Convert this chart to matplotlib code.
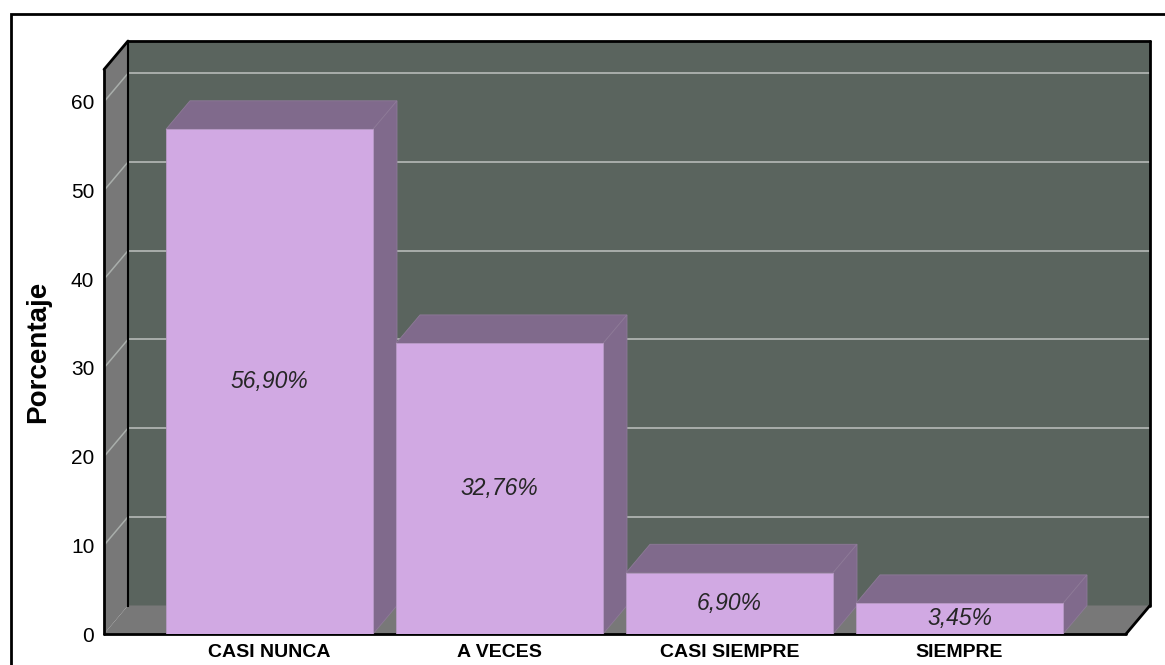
import matplotlib.pyplot as plt
from matplotlib import font_manager
from matplotlib.patches import Polygon, Rectangle

# Data
categories = ['CASI NUNCA', 'A VECES', 'CASI SIEMPRE', 'SIEMPRE']
percentages = [56.90, 32.76, 6.90, 3.45]
value_labels = ['56,90%', '32,76%', '6,90%', '3,45%']
y_ticks = [0, 10, 20, 30, 40, 50, 60]

# Colours
wall_back = '#5a645e'
wall_side = '#787878'
grid_col = '#a9aeab'
bar_front = '#d1a9e3'
bar_dark = '#806a8c'

plt.rcParams['font.family'] = ['Liberation Sans', 'DejaVu Sans']

# narrow bold font for the category labels if it is there
names = {f.name for f in font_manager.fontManager.ttflist}
if 'Liberation Sans Narrow' in names:
    cat_font = dict(family=['Liberation Sans Narrow', 'DejaVu Sans'], fontsize=16)
else:
    cat_font = dict(fontsize=14)

W, H = 1165, 665
fig = plt.figure(figsize=(W / 100, H / 100), dpi=100)

# axes box in pixels (front-left corner of floor to back-right top corner)
left_px, right_px, bottom_px, top_px = 104, 1150, 634, 41
ax = fig.add_axes([left_px / W, (H - bottom_px) / H,
                   (right_px - left_px) / W, (bottom_px - top_px) / H])

px_cat = 230.0   # pixels per category
px_val = 8.87    # pixels per percent
x0 = -(269.5 - left_px) / px_cat
x1 = x0 + (right_px - left_px) / px_cat
ytop = (bottom_px - top_px) / px_val
DX = 24 / px_cat
DY = 28.5 / px_val
xr = x1 - DX           # right end of floor front edge
ywall = ytop - DY      # top of left wall front edge

ax.set_xlim(x0, x1)
ax.set_ylim(0, ytop)
for s in ax.spines.values():
    s.set_visible(False)
ax.patch.set_visible(False)

# back wall, left wall, floor
ax.add_patch(Polygon([(x0 + DX, DY), (x1, DY), (x1, ytop), (x0 + DX, ytop)],
                     closed=True, facecolor=wall_back, edgecolor='none', zorder=1))
ax.add_patch(Polygon([(x0, 0), (x0 + DX, DY), (x0 + DX, ytop), (x0, ywall)],
                     closed=True, facecolor=wall_side, edgecolor='none', zorder=1))
ax.add_patch(Polygon([(x0, 0), (xr, 0), (x1, DY), (x0 + DX, DY)],
                     closed=True, facecolor=wall_side, edgecolor='none', zorder=1))

# gridlines
for v in y_ticks[1:]:
    ax.plot([x0 + DX, x1], [v + DY, v + DY], color=grid_col, lw=1.4, zorder=2)
    ax.plot([x0, x0 + DX], [v, v + DY], color=grid_col, lw=1.1, zorder=2)

# frame edges
edge_kw = dict(color='black', lw=2, zorder=3, clip_on=False, solid_capstyle='round')
ax.plot([x0, x0], [0, ywall], **edge_kw)
ax.plot([x0, x0 + DX], [ywall, ytop], **edge_kw)
ax.plot([x0 + DX, x1], [ytop, ytop], **edge_kw)
ax.plot([x1, x1], [ytop, DY], **edge_kw)
ax.plot([x1, xr], [DY, 0], **edge_kw)
ax.plot([x0, xr], [0, 0], **edge_kw)
ax.plot([x0 + DX, x0 + DX], [DY, ytop], color='black', lw=1.5, zorder=3)

# 3D bars
bw = 0.9
for i, v in enumerate(percentages):
    l, r = i - bw / 2, i + bw / 2
    ax.add_patch(Polygon([(l, v), (r, v), (r + DX, v + DY), (l + DX, v + DY)],
                         closed=True, facecolor=bar_dark, edgecolor='#8e7a98',
                         lw=0.6, zorder=4 + i))
    ax.add_patch(Polygon([(r, 0), (r + DX, DY), (r + DX, v + DY), (r, v)],
                         closed=True, facecolor=bar_dark, edgecolor='#8e7a98',
                         lw=0.6, zorder=4 + i))
    ax.add_patch(Rectangle((l, 0), bw, v, facecolor=bar_front,
                           edgecolor='#b89ac6', lw=0.6, zorder=4 + i))

# value labels
for i, (v, lab) in enumerate(zip(percentages, value_labels)):
    box = dict(facecolor=bar_front, edgecolor='none', pad=2) if v < 5 else None
    ax.text(i, v / 2, lab, ha='center', va='center', fontsize=16.5,
            style='italic', color='#262626', zorder=20, bbox=box)

# ticks
ax.set_xticks(range(len(categories)))
ax.set_xticklabels(categories, fontweight='bold', **cat_font)
ax.set_yticks(y_ticks)
ax.set_yticklabels([str(t) for t in y_ticks], fontsize=15)
ax.tick_params(axis='x', length=0, pad=7)
ax.tick_params(axis='y', length=0, pad=7)

fig.text(38 / W, (H - 352) / H, 'Porcentaje', rotation=90, ha='center',
         va='center', fontsize=20, fontweight='bold')

# outer border
fig.add_artist(Rectangle((11 / W, -0.1), 2, (H - 14) / H + 0.1,
                         transform=fig.transFigure, fill=False,
                         edgecolor='black', lw=2))

plt.savefig('out.png', dpi=100)
